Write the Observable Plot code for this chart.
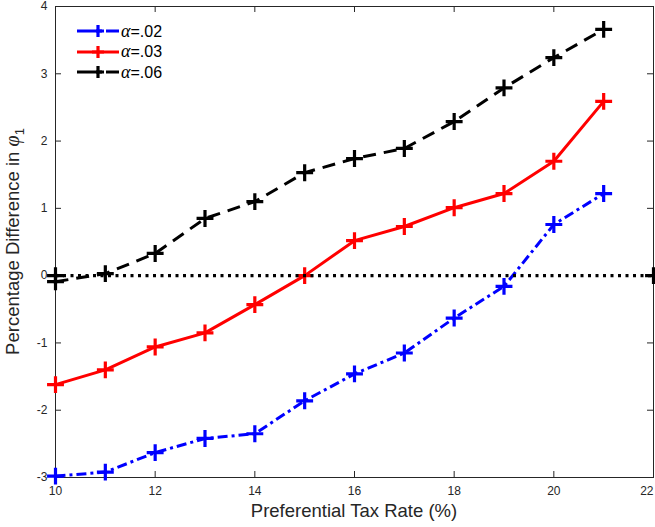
<!DOCTYPE html>
<html><head><meta charset="utf-8">
<script src="https://cdn.jsdelivr.net/npm/d3@7"></script>
<script src="https://cdn.jsdelivr.net/npm/@observablehq/plot@0.6"></script>
<style>
body{margin:0;background:#fff;font-family:"Liberation Sans",Arial,sans-serif;}
#wrap{position:relative;width:655px;height:527px;overflow:hidden;}
#legend{position:absolute;left:77px;top:21px;font-size:16px;color:#000;}
.row{display:flex;align-items:center;height:20.5px;}
.row svg{width:44px;height:20px;}
.al{font-family:"Liberation Serif","DejaVu Serif",serif;font-style:italic;font-size:18px;}
</style></head>
<body><div id="wrap"><div id="chart"></div><div id="legend"></div></div>
<script>
const rates = [10,11,12,13,14,15,16,17,18,19,20,21];
const alpha02 = [-2.98,-2.92,-2.63,-2.42,-2.35,-1.86,-1.46,-1.15,-0.63,-0.16,0.76,1.22];
const alpha03 = [-1.62,-1.40,-1.06,-0.85,-0.43,0.0,0.52,0.73,1.01,1.22,1.70,2.59];
const alpha06 = [-0.09,0.03,0.33,0.85,1.10,1.53,1.74,1.89,2.29,2.79,3.24,3.66];
const zeroX = [10,22];
const zeroY = [0,0];
const xTicks = [10,12,14,16,18,20,22];
const yTicks = [-3,-2,-1,0,1,2,3,4];
const seriesNames = ["α=.02","α=.03","α=.06"];

const styles = [
  {color:"#0000ff", dash:"10,4,3,4"},
  {color:"#ff0000", dash:null},
  {color:"#000000", dash:"13,8"}
];
const seriesVals = [alpha02, alpha03, alpha06];
const series = seriesVals.map(v => rates.map((x,i)=>({x, y:v[i]})));
const zero = zeroX.map((x,i)=>({x, y:zeroY[i]}));

const W=655,H=527,mt=6,mr=2,mb=50,ml=55;
const iw=W-ml-mr, ih=H-mt-mb, tl=6;
const axColor="#262626";

const marks = [
  Plot.frame({stroke:axColor, strokeWidth:1}),
  Plot.tickX(xTicks,{x:d=>d, stroke:axColor, insetTop:ih-tl}),
  Plot.tickX(xTicks,{x:d=>d, stroke:axColor, insetBottom:ih-tl}),
  Plot.tickY(yTicks,{y:d=>d, stroke:axColor, insetRight:iw-tl}),
  Plot.tickY(yTicks,{y:d=>d, stroke:axColor, insetLeft:iw-tl}),
  Plot.axisX({ticks:xTicks, tickSize:0, tickPadding:9, label:null, fontSize:12, color:axColor, tickFormat:d=>String(d)}),
  Plot.axisY({ticks:yTicks, tickSize:0, tickPadding:8, label:null, fontSize:12, color:axColor, tickFormat:d=>String(d)}),
];
series.forEach((s,i)=>{
  marks.push(Plot.line(s,{x:"x",y:"y",stroke:styles[i].color,strokeWidth:3,strokeDasharray:styles[i].dash,strokeLinecap:"butt"}));
  marks.push(Plot.dot(s,{x:"x",y:"y",symbol:"plus",r:5.5,stroke:styles[i].color,strokeWidth:3.2}));
});
marks.push(Plot.line(zero,{x:"x",y:"y",stroke:"#000",strokeWidth:3.2,strokeDasharray:"3,4.5",strokeLinecap:"butt"}));
marks.push(Plot.dot(zero,{x:"x",y:"y",symbol:"plus",r:5.5,stroke:"#000",strokeWidth:3.2}));

const chart = Plot.plot({
  width:W, height:H, marginTop:mt, marginRight:mr, marginBottom:mb, marginLeft:ml,
  x:{domain:[10,22]}, y:{domain:[-3,4]},
  style:{fontFamily:'"Liberation Sans",Arial,sans-serif', background:"#fff"},
  marks
});
document.getElementById("chart").appendChild(chart);

const svg = d3.select(chart);
// keep the last x tick label inside the picture
svg.selectAll("text").filter(function(){ return this.textContent === "22"; })
  .attr("text-anchor","end").attr("dx", 0);
svg.append("text").attr("x", ml+iw/2).attr("y", 517).attr("text-anchor","middle")
  .attr("font-size",18.5).attr("fill",axColor).text("Preferential Tax Rate (%)");
const yl = svg.append("text").attr("transform",`translate(19,${mt+ih/2}) rotate(-90)`)
  .attr("text-anchor","middle").attr("font-size",18.5).attr("fill",axColor);
yl.append("tspan").text("Percentage Difference in ");
yl.append("tspan").attr("font-family",'"Liberation Serif",serif').attr("font-style","italic").attr("font-size",20).text("φ");
yl.append("tspan").attr("font-size",13).attr("dy",5).text("1");

const leg = document.getElementById("legend");
seriesNames.forEach((n,i)=>{
  const row = document.createElement("div"); row.className="row";
  const st = styles[i];
  row.innerHTML = `<svg viewBox="0 0 44 20"><line x1="0" y1="10" x2="42" y2="10" stroke="${st.color}" stroke-width="3" ${st.dash?`stroke-dasharray="15,4,6,4"`:''}/><path d="M21,4V16M15,10H27" stroke="${st.color}" stroke-width="3.2"/></svg><span><span class="al">${n[0]}</span>${n.slice(1)}</span>`;
  leg.appendChild(row);
});
</script></body></html>
